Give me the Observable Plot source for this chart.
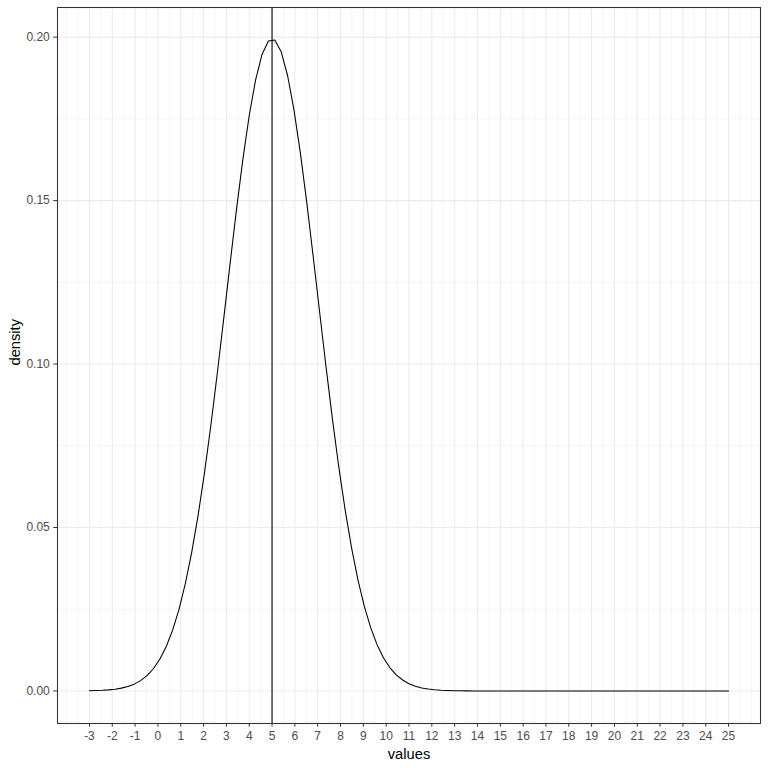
<!DOCTYPE html>
<html>
<head>
<meta charset="utf-8">
<script src="https://cdn.jsdelivr.net/npm/d3@7"></script>
<script src="https://cdn.jsdelivr.net/npm/@observablehq/plot@0.6"></script>
<style>
  html, body { margin: 0; padding: 0; background: #ffffff; }
  #chart { width: 768px; height: 768px; }
</style>
</head>
<body>
<div id="chart"></div>
<script>
// x positions where the density curve is sampled (values axis)
const xValues = [
  -3.00, -2.72, -2.44, -2.16, -1.88, -1.60, -1.32, -1.04, -0.76, -0.48,
  -0.20, 0.08, 0.36, 0.64, 0.92, 1.20, 1.48, 1.76, 2.04, 2.32,
  2.60, 2.88, 3.16, 3.44, 3.72, 4.00, 4.28, 4.56, 4.84, 5.12,
  5.40, 5.68, 5.96, 6.24, 6.52, 6.80, 7.08, 7.36, 7.64, 7.92,
  8.20, 8.48, 8.76, 9.04, 9.32, 9.60, 9.88, 10.16, 10.44, 10.72,
  11.00, 11.28, 11.56, 11.84, 12.12, 12.40, 12.68, 12.96, 13.24, 13.52,
  13.80, 14.08, 14.36, 14.64, 14.92, 15.20, 15.48, 15.76, 16.04, 16.32,
  16.60, 16.88, 17.16, 17.44, 17.72, 18.00, 18.28, 18.56, 18.84, 19.12,
  19.40, 19.68, 19.96, 20.24, 20.52, 20.80, 21.08, 21.36, 21.64, 21.92,
  22.20, 22.48, 22.76, 23.04, 23.32, 23.60, 23.88, 24.16, 24.44, 24.72,
  25.00
];
// density
const densityValues = [
  0.000067, 0.000116, 0.000197, 0.000329, 0.000537, 0.000861, 0.001354, 0.002086, 0.003153, 0.004673,
  0.006791, 0.009678, 0.013524, 0.018531, 0.024900, 0.032808, 0.042388, 0.053703, 0.066717, 0.081277,
  0.097093, 0.113735, 0.130643, 0.147152, 0.162531, 0.176033, 0.186955, 0.194702, 0.198834, 0.199112,
  0.195521, 0.188269, 0.177766, 0.164592, 0.149436, 0.133042, 0.116149, 0.099432, 0.083469, 0.068708,
  0.055460, 0.043898, 0.034072, 0.025932, 0.019354, 0.014164, 0.010164, 0.007153, 0.004936, 0.003340,
  0.002216, 0.001442, 0.000920, 0.000576, 0.000353, 0.000212, 0.000125, 0.000072, 0.000041, 0.000023,
  0.000012, 0.000006, 0.000003, 0.000002, 0.000001, 0, 0, 0, 0, 0,
  0, 0, 0, 0, 0, 0, 0, 0, 0, 0,
  0, 0, 0, 0, 0, 0, 0, 0, 0, 0,
  0, 0, 0, 0, 0, 0, 0, 0, 0, 0,
  0
];
const meanLine = [5];
const xTicks = [-3, -2, -1, 0, 1, 2, 3, 4, 5, 6, 7, 8, 9, 10, 11, 12, 13, 14, 15, 16, 17, 18, 19, 20, 21, 22, 23, 24, 25];
const xMinorGrid = [-4, -3.5, -2.5, -1.5, -0.5, 0.5, 1.5, 2.5, 3.5, 4.5, 5.5, 6.5, 7.5, 8.5, 9.5, 10.5, 11.5, 12.5, 13.5, 14.5, 15.5, 16.5, 17.5, 18.5, 19.5, 20.5, 21.5, 22.5, 23.5, 24.5, 25.5, 26];
const yTicks = [0, 0.05, 0.10, 0.15, 0.20];
const yTickLabels = ["0.00", "0.05", "0.10", "0.15", "0.20"];
const yMinorGrid = [0.025, 0.075, 0.125, 0.175];
const xTitle = "values";
const yTitle = "density";

const curve = xValues.map((x, i) => ({x, y: densityValues[i]}));

const xMin = d3.min(xValues), xMax = d3.max(xValues);
const yMin = d3.min(densityValues), yMax = d3.max(densityValues);
const xPad = (xMax - xMin) * 0.05, yPad = (yMax - yMin) * 0.05;

const plot = Plot.plot({
  width: 768,
  height: 768,
  marginTop: 7,
  marginBottom: 45,
  marginLeft: 57,
  marginRight: 8,
  style: {fontFamily: "'Liberation Sans', Arial, sans-serif", background: "#ffffff", color: "#333333"},
  x: {domain: [xMin - xPad, xMax + xPad]},
  y: {domain: [yMin - yPad, yMax + yPad]},
  marks: [
    Plot.ruleX(xMinorGrid, {stroke: "#ebebeb", strokeWidth: 0.55}),
    Plot.ruleY(yMinorGrid, {stroke: "#ebebeb", strokeWidth: 0.55}),
    Plot.ruleX(xTicks, {stroke: "#ebebeb", strokeWidth: 1.07}),
    Plot.ruleY(yTicks, {stroke: "#ebebeb", strokeWidth: 1.07}),
    Plot.line(curve, {x: "x", y: "y", stroke: "#000000", strokeWidth: 1.07}),
    Plot.ruleX(meanLine, {stroke: "#000000", strokeWidth: 1.07}),
    Plot.frame({stroke: "#333333", strokeWidth: 1.07}),
    Plot.axisX({ticks: xTicks, tickFormat: d => String(d), tickSize: 3.7, tickPadding: 4, fontSize: 12, label: null, stroke: "#333333"}),
    Plot.axisY({ticks: yTicks, tickFormat: (d, i) => yTickLabels[yTicks.indexOf(d)], tickSize: 3.7, tickPadding: 4, fontSize: 12, label: null, stroke: "#333333"}),
    Plot.text([xTitle], {frameAnchor: "bottom", lineAnchor: "middle", dy: 31, fontSize: 14.7, fill: "#000000"}),
    Plot.text([yTitle], {frameAnchor: "left", dx: -42, rotate: -90, fontSize: 14.7, fill: "#000000"})
  ]
});

d3.select(plot).selectAll('g[aria-label="x-axis tick label"], g[aria-label="y-axis tick label"]').attr("fill", "#4d4d4d");
document.getElementById("chart").appendChild(plot);
</script>
</body>
</html>
